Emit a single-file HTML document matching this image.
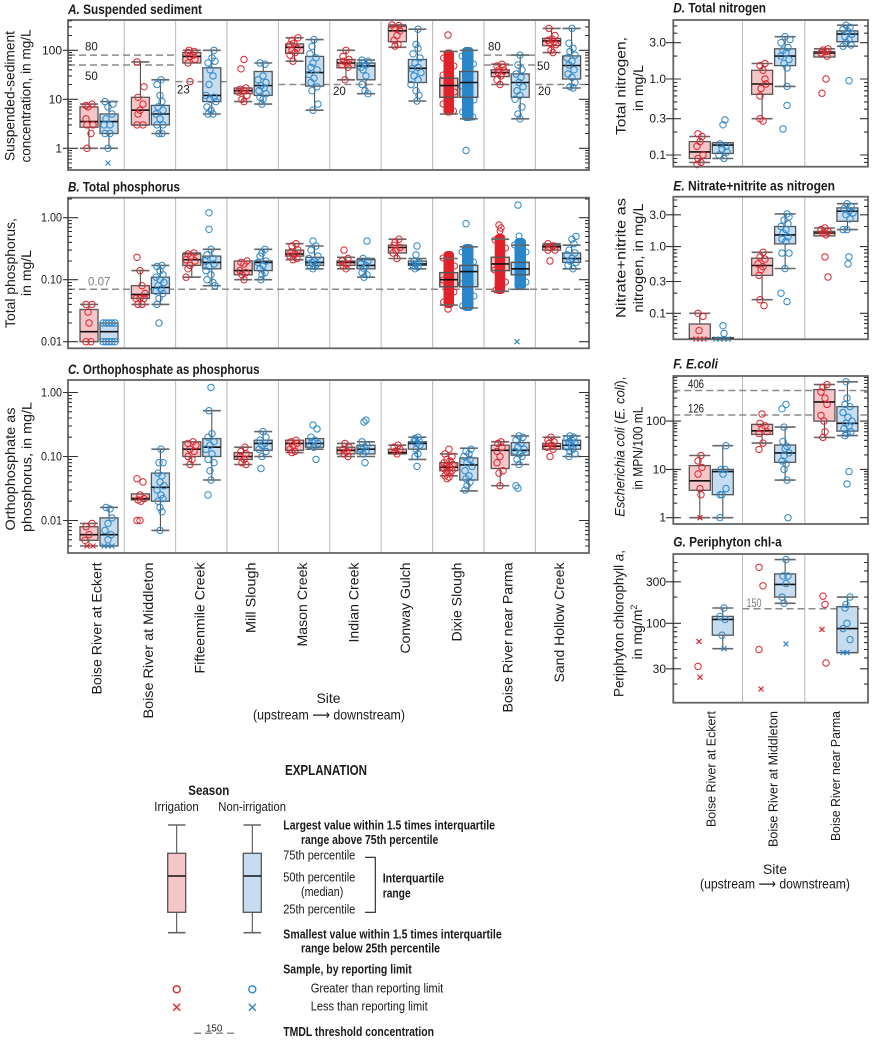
<!DOCTYPE html>
<html><head><meta charset="utf-8"><style>
html,body{margin:0;padding:0;background:#fff}
svg{display:block}
text{font-family:"Liberation Sans",Arial,sans-serif;fill:#1a1a1a}
.t{font-size:13.5px;font-weight:bold}
.tk{font-size:12px}
.ax{font-size:14px}
.th{font-size:11.5px;fill:#7a7a7a}
.rb{fill:#f6c5c7;stroke:#555;stroke-width:1.3}
.bb{fill:#c6dcf0;stroke:#555;stroke-width:1.3}
.ol{fill:none;stroke:#555;stroke-width:1.3}
.md{stroke:#111;stroke-width:1.6;fill:none}
.wk{stroke:#444;stroke-width:1;fill:none}
.cp{stroke:#666;stroke-width:1.6;fill:none}
.rp{fill:none;stroke:#e0232b;stroke-width:1}
.bp{fill:none;stroke:#2b86c9;stroke-width:1}
.fr{fill:none;stroke:#656565;stroke-width:1.8}
.dv{stroke:#bdbdbd;stroke-width:1.1}
.ds{stroke:#8a8a8a;stroke-width:1.5;stroke-dasharray:7 4;fill:none}
.tc{stroke:#333;stroke-width:1.1;fill:none}
.lg{font-size:12.5px}
.lb{font-size:12.5px;font-weight:bold}
.arr{font-family:"Liberation Sans","DejaVu Sans",sans-serif}
</style></head><body>
<svg width="875" height="1041" viewBox="0 0 875 1041" xmlns="http://www.w3.org/2000/svg">
<rect width="875" height="1041" fill="#fff"/>

<!-- ================= PANEL A ================= -->
<text class="t" x="68" y="14" textLength="134" lengthAdjust="spacingAndGlyphs"><tspan font-style="italic">A.</tspan> Suspended sediment</text>
<g class="dv"><path d="M124.2 20V170M175.6 20V170M227 20V170M278.4 20V170M329.8 20V170M381.2 20V170M432.6 20V170M484 20V170M535.4 20V170"/></g>
<path class="ds" d="M68 55.1H175.6M68 65H175.6M175.6 81.6H227M278.4 84.5H381.2M484 55.1H535.4M484 65H535.4M535.4 84.5H589"/>
<g class="th"><text x="85" y="50.7">80</text><text x="85" y="80">50</text><text x="177" y="93.5">23</text><text x="333" y="95">20</text><text x="488" y="50.7">80</text><text x="537" y="70">50</text><text x="538" y="95">20</text></g>

<path class="wk" d="M89 104.1V106.9M89 127.2V148.3M109 101.6V114M109 133.5V148.3M140.4 61.9V97.3M160.4 79.8V105.4M160.4 124.9V133.5M191.8 50.3V52.6M211.8 50.3V67.8M211.8 101.6V114M243.2 93.7V101.6M263.2 63V71.5M263.2 95.4V104.1M294.6 37.8V43.9M294.6 53.3V61.2M314.6 39.6V56.4M314.6 86.1V110.2M346 50.3V59.5M346 67.8V79.8M366 60.1V63M366 79.8V93.7M397.4 24.9V26.2M397.4 41.7V47.3M417.4 29.2V59.5M417.4 82.5V101M448.8 51.4V78.2M448.8 97.3V114M468.8 50.3V71.5M468.8 97.3V118.8M500.2 64.2V69.8M500.2 76.6V84.5M520.2 55.1V73.9M520.2 97.3V118.8M551.6 28.4V38.4M551.6 45.6V52.6M571.6 28.4V55.9M571.6 79V88"/>
<path class="cp" d="M80 104.1H98M80 148.3H98M100 101.6H118M100 148.3H118M131.4 61.9H149.4M131.4 124.9H149.4M151.4 79.8H169.4M151.4 133.5H169.4M182.8 50.3H200.8M202.8 50.3H220.8M202.8 114H220.8M234.2 101.6H252.2M254.2 63H272.2M254.2 104.1H272.2M285.6 37.8H303.6M285.6 61.2H303.6M305.6 39.6H323.6M305.6 110.2H323.6M337 50.3H355M337 79.8H355M357 60.1H375M357 93.7H375M388.4 24.9H406.4M388.4 47.3H406.4M408.4 29.2H426.4M408.4 101H426.4M491.2 64.2H509.2M491.2 84.5H509.2M511.2 55.1H529.2M511.2 118.8H529.2M542.6 28.4H560.6M542.6 52.6H560.6M562.6 28.4H580.6M562.6 88H580.6"/>
<g class="rb"><rect x="80" y="106.9" width="18" height="20.3"/><rect x="131.4" y="97.3" width="18" height="27.6"/><rect x="182.8" y="52.6" width="18" height="10.4"/><rect x="234.2" y="88" width="18" height="5.7"/><rect x="285.6" y="43.9" width="18" height="9.4"/><rect x="337" y="59.5" width="18" height="8.3"/><rect x="388.4" y="26.2" width="18" height="15.5"/><rect x="439.8" y="78.2" width="18" height="19.1"/><rect x="491.2" y="69.8" width="18" height="6.8"/><rect x="542.6" y="38.4" width="18" height="7.2"/></g>
<g class="bb"><rect x="100" y="114" width="18" height="19.5"/><rect x="151.4" y="105.4" width="18" height="19.5"/><rect x="202.8" y="67.8" width="18" height="33.8"/><rect x="254.2" y="71.5" width="18" height="23.9"/><rect x="305.6" y="56.4" width="18" height="29.7"/><rect x="357" y="63" width="18" height="16.8"/><rect x="408.4" y="59.5" width="18" height="23"/><rect x="459.8" y="71.5" width="18" height="25.8"/><rect x="511.2" y="73.9" width="18" height="23.4"/><rect x="562.6" y="55.9" width="18" height="23.1"/></g>
<path class="md" d="M80 121.6H98M100 121.6H118M131.4 110.2H149.4M151.4 114H169.4M182.8 56.4H200.8M202.8 95.4H220.8M234.2 90.7H252.2M254.2 85.6H272.2M285.6 47.3H303.6M305.6 72.6H323.6M337 63H355M357 65.9H375M388.4 30.8H406.4M408.4 68.3H426.4M491.2 72.6H509.2M511.2 82.5H529.2M542.6 40.9H560.6M562.6 65.5H580.6"/>
<g class="rp">
<circle cx="92" cy="104.1" r="3.2"/><circle cx="86" cy="105.4" r="3.2"/><circle cx="88" cy="106.9" r="3.2"/><circle cx="86" cy="118.8" r="3.2"/><circle cx="93" cy="124.9" r="3.2"/><circle cx="87" cy="124.9" r="3.2"/><circle cx="91" cy="133.5" r="3.2"/><circle cx="87" cy="148.3" r="3.2"/>
<circle cx="137" cy="61.9" r="3.2"/><circle cx="144" cy="86.8" r="3.2"/><circle cx="138" cy="97.3" r="3.2"/><circle cx="143" cy="104.1" r="3.2"/><circle cx="140" cy="110.2" r="3.2"/><circle cx="138" cy="114" r="3.2"/><circle cx="137" cy="124.9" r="3.2"/><circle cx="143" cy="124.9" r="3.2"/>
<circle cx="189" cy="50.3" r="3.2"/><circle cx="194" cy="51.4" r="3.2"/><circle cx="188" cy="52.6" r="3.2"/><circle cx="193" cy="55.1" r="3.2"/><circle cx="190" cy="56.4" r="3.2"/><circle cx="195" cy="59.5" r="3.2"/><circle cx="188" cy="63" r="3.2"/><circle cx="190" cy="81.6" r="3.2"/>
<circle cx="244" cy="59.5" r="3.2"/><circle cx="241" cy="68.8" r="3.2"/><circle cx="246" cy="88" r="3.2"/><circle cx="240" cy="89.3" r="3.2"/><circle cx="244" cy="90.7" r="3.2"/><circle cx="239" cy="92.1" r="3.2"/><circle cx="247" cy="95.4" r="3.2"/><circle cx="242" cy="99.3" r="3.2"/><circle cx="244" cy="101.6" r="3.2"/>
<circle cx="298" cy="37.8" r="3.2"/><circle cx="292" cy="40.3" r="3.2"/><circle cx="294" cy="43.2" r="3.2"/><circle cx="290" cy="44.7" r="3.2"/><circle cx="297" cy="48.3" r="3.2"/><circle cx="292" cy="50.3" r="3.2"/><circle cx="295" cy="52.6" r="3.2"/><circle cx="290" cy="55.1" r="3.2"/><circle cx="293" cy="61.2" r="3.2"/>
<circle cx="346" cy="50.3" r="3.2"/><circle cx="343" cy="56.4" r="3.2"/><circle cx="349" cy="59.5" r="3.2"/><circle cx="344" cy="61.2" r="3.2"/><circle cx="347" cy="63" r="3.2"/><circle cx="342" cy="65" r="3.2"/><circle cx="348" cy="67.3" r="3.2"/><circle cx="345" cy="79.8" r="3.2"/>
<circle cx="392" cy="24.9" r="3.2"/><circle cx="399" cy="25.6" r="3.2"/><circle cx="395" cy="28.4" r="3.2"/><circle cx="400" cy="30.8" r="3.2"/><circle cx="397" cy="35.5" r="3.2"/><circle cx="394" cy="40.3" r="3.2"/><circle cx="398" cy="44.4" r="3.2"/><circle cx="395" cy="46.1" r="3.2"/>
<circle cx="448" cy="35" r="3.2"/>
<circle cx="502" cy="64.2" r="3.2"/><circle cx="497" cy="65.9" r="3.2"/><circle cx="503" cy="67.3" r="3.2"/><circle cx="499" cy="69.8" r="3.2"/><circle cx="504" cy="70.9" r="3.2"/><circle cx="498" cy="72.6" r="3.2"/><circle cx="501" cy="75.9" r="3.2"/><circle cx="497" cy="79.8" r="3.2"/><circle cx="500" cy="84.5" r="3.2"/>
<circle cx="549" cy="28.4" r="3.2"/><circle cx="555" cy="35.5" r="3.2"/><circle cx="552" cy="38.9" r="3.2"/><circle cx="548" cy="40.3" r="3.2"/><circle cx="554" cy="41.7" r="3.2"/><circle cx="550" cy="43.2" r="3.2"/><circle cx="556" cy="44.7" r="3.2"/><circle cx="551" cy="50.3" r="3.2"/><circle cx="553" cy="52.6" r="3.2"/>
</g>
<g class="bp">
<circle cx="105" cy="101.6" r="3.2"/><circle cx="113" cy="104.1" r="3.2"/><circle cx="108" cy="106.9" r="3.2"/><circle cx="112" cy="114" r="3.2"/><circle cx="106" cy="118.8" r="3.2"/><circle cx="104" cy="124.9" r="3.2"/><circle cx="110" cy="124.9" r="3.2"/><circle cx="105" cy="133.5" r="3.2"/><circle cx="110" cy="133.5" r="3.2"/><circle cx="108" cy="148.3" r="3.2"/>
<circle cx="161" cy="79.8" r="3.2"/><circle cx="157" cy="84.5" r="3.2"/><circle cx="160" cy="95.4" r="3.2"/><circle cx="162" cy="101.6" r="3.2"/><circle cx="158" cy="106.9" r="3.2"/><circle cx="163" cy="110.2" r="3.2"/><circle cx="156" cy="114" r="3.2"/><circle cx="160" cy="118.8" r="3.2"/><circle cx="163" cy="124.9" r="3.2"/><circle cx="157" cy="124.9" r="3.2"/><circle cx="159" cy="133.5" r="3.2"/><circle cx="162" cy="133.5" r="3.2"/>
<circle cx="214" cy="50.3" r="3.2"/><circle cx="212" cy="57.9" r="3.2"/><circle cx="208" cy="63" r="3.2"/><circle cx="215" cy="61.2" r="3.2"/><circle cx="210" cy="69.8" r="3.2"/><circle cx="213" cy="75.9" r="3.2"/><circle cx="209" cy="84.5" r="3.2"/><circle cx="206" cy="95.4" r="3.2"/><circle cx="214" cy="97.3" r="3.2"/><circle cx="210" cy="99.3" r="3.2"/><circle cx="216" cy="101.6" r="3.2"/><circle cx="207" cy="106.9" r="3.2"/><circle cx="211" cy="110.2" r="3.2"/><circle cx="208" cy="114" r="3.2"/><circle cx="213" cy="114" r="3.2"/>
<circle cx="260" cy="63" r="3.2"/><circle cx="265" cy="64.2" r="3.2"/><circle cx="263" cy="75.9" r="3.2"/><circle cx="258" cy="79.8" r="3.2"/><circle cx="266" cy="82.5" r="3.2"/><circle cx="261" cy="85.6" r="3.2"/><circle cx="264" cy="88" r="3.2"/><circle cx="259" cy="90.7" r="3.2"/><circle cx="266" cy="93.7" r="3.2"/><circle cx="260" cy="97.3" r="3.2"/><circle cx="263" cy="99.3" r="3.2"/><circle cx="262" cy="104.1" r="3.2"/>
<circle cx="314" cy="39.6" r="3.2"/><circle cx="312" cy="46.4" r="3.2"/><circle cx="310" cy="53.8" r="3.2"/><circle cx="316" cy="57.9" r="3.2"/><circle cx="313" cy="63" r="3.2"/><circle cx="311" cy="67.3" r="3.2"/><circle cx="317" cy="69.8" r="3.2"/><circle cx="309" cy="74.5" r="3.2"/><circle cx="314" cy="78.2" r="3.2"/><circle cx="311" cy="82.5" r="3.2"/><circle cx="317" cy="86.8" r="3.2"/><circle cx="312" cy="90.7" r="3.2"/><circle cx="318" cy="104.1" r="3.2"/><circle cx="313" cy="110.2" r="3.2"/>
<circle cx="362" cy="60.1" r="3.2"/><circle cx="368" cy="61.2" r="3.2"/><circle cx="364" cy="63" r="3.2"/><circle cx="366" cy="65" r="3.2"/><circle cx="361" cy="67.3" r="3.2"/><circle cx="363" cy="69.8" r="3.2"/><circle cx="366" cy="75.9" r="3.2"/><circle cx="362" cy="84.5" r="3.2"/><circle cx="365" cy="90.7" r="3.2"/><circle cx="368" cy="93.7" r="3.2"/>
<circle cx="418" cy="29.2" r="3.2"/><circle cx="416" cy="44.4" r="3.2"/><circle cx="418" cy="48.3" r="3.2"/><circle cx="413" cy="53.8" r="3.2"/><circle cx="420" cy="57.9" r="3.2"/><circle cx="415" cy="63" r="3.2"/><circle cx="418" cy="67.3" r="3.2"/><circle cx="412" cy="68.8" r="3.2"/><circle cx="421" cy="72.6" r="3.2"/><circle cx="414" cy="75.9" r="3.2"/><circle cx="418" cy="79.8" r="3.2"/><circle cx="411" cy="84.5" r="3.2"/><circle cx="416" cy="90.7" r="3.2"/><circle cx="419" cy="95.4" r="3.2"/><circle cx="417" cy="101" r="3.2"/>
<circle cx="466" cy="150.5" r="3.2"/>
<circle cx="520" cy="55.1" r="3.2"/><circle cx="518" cy="65" r="3.2"/><circle cx="522" cy="69.8" r="3.2"/><circle cx="516" cy="73.9" r="3.2"/><circle cx="521" cy="77.4" r="3.2"/><circle cx="519" cy="82.5" r="3.2"/><circle cx="523" cy="86.8" r="3.2"/><circle cx="517" cy="90.7" r="3.2"/><circle cx="520" cy="95.4" r="3.2"/><circle cx="515" cy="99.3" r="3.2"/><circle cx="522" cy="106.9" r="3.2"/><circle cx="518" cy="114" r="3.2"/><circle cx="520" cy="118.8" r="3.2"/>
<circle cx="572" cy="28.4" r="3.2"/><circle cx="569" cy="43.2" r="3.2"/><circle cx="573" cy="48.3" r="3.2"/><circle cx="570" cy="51.4" r="3.2"/><circle cx="575" cy="55.1" r="3.2"/><circle cx="567" cy="57.9" r="3.2"/><circle cx="572" cy="61.2" r="3.2"/><circle cx="569" cy="65" r="3.2"/><circle cx="574" cy="69.8" r="3.2"/><circle cx="568" cy="73.9" r="3.2"/><circle cx="572" cy="77.4" r="3.2"/><circle cx="575" cy="82.5" r="3.2"/><circle cx="570" cy="86.8" r="3.2"/><circle cx="573" cy="88" r="3.2"/>
</g>
<path stroke="#2b86c9" stroke-width="1.2" d="M105.5 160.5l5 5M105.5 165.5l5 -5"/>
<!-- Dixie clouds A -->
<rect x="443.5" y="49.5" width="10.5" height="66" rx="4" fill="#e0232b"/>
<g class="rp"><circle cx="443.5" cy="58" r="3"/><circle cx="454" cy="66" r="3"/><circle cx="443" cy="75" r="3"/><circle cx="454.5" cy="92" r="3"/><circle cx="443" cy="104" r="3"/><circle cx="453.5" cy="111" r="3"/></g>
<rect x="462" y="47" width="11.5" height="74" rx="4" fill="#2b86c9"/>
<g class="bp"><circle cx="462" cy="56" r="3"/><circle cx="473.5" cy="64" r="3"/><circle cx="461.5" cy="86" r="3"/><circle cx="474" cy="100" r="3"/><circle cx="462.5" cy="112" r="3"/><circle cx="473" cy="117" r="3"/></g>
<rect class="ol" x="439.8" y="78.2" width="18" height="19.1"/><rect class="ol" x="459.8" y="71.5" width="18" height="25.8"/>
<path class="cp" d="M439.8 51.4H457.8M439.8 114H457.8M459.8 50.3H477.8M459.8 118.8H477.8"/>
<path class="md" d="M439.8 85.6H457.8M459.8 82.5H477.8"/>
<rect class="fr" x="68" y="20" width="521" height="150"/>
<path class="tc" d="M63 148.3H78M63 99.3H78M63 50.3H78M579 148.3H589M579 99.3H589M579 50.3H589"/>
<path class="tc" d="M68 167.8h4M68 163h4M68 159.2h4M68 155.9h4M68 153h4M68 150.5h4M68 133.5h4M68 124.9h4M68 118.8h4M68 114h4M68 110.2h4M68 106.9h4M68 104.1h4M68 101.6h4M68 84.5h4M68 75.9h4M68 69.8h4M68 65h4M68 61.2h4M68 57.9h4M68 55.1h4M68 52.6h4M68 35.5h4M68 26.9h4M68 20.8h4M589 167.8h-4M589 163h-4M589 159.2h-4M589 155.9h-4M589 153h-4M589 150.5h-4M589 133.5h-4M589 124.9h-4M589 118.8h-4M589 114h-4M589 110.2h-4M589 106.9h-4M589 104.1h-4M589 101.6h-4M589 84.5h-4M589 75.9h-4M589 69.8h-4M589 65h-4M589 61.2h-4M589 57.9h-4M589 55.1h-4M589 52.6h-4M589 35.5h-4M589 26.9h-4"/>
<g class="tk" text-anchor="end"><text x="62" y="54.3">100</text><text x="62" y="103.3">10</text><text x="62" y="152.3">1</text></g>
<text class="ax" transform="translate(14.5 96) rotate(-90)" text-anchor="middle" textLength="130" lengthAdjust="spacingAndGlyphs">Suspended-sediment</text>
<text class="ax" transform="translate(30.5 96) rotate(-90)" text-anchor="middle" textLength="133" lengthAdjust="spacingAndGlyphs">concentration, in mg/L</text>

<!-- ================= PANEL B ================= -->
<text class="t" x="68" y="191.5" textLength="112" lengthAdjust="spacingAndGlyphs"><tspan font-style="italic">B.</tspan> Total phosphorus</text>
<g class="dv"><path d="M124.2 197.7V348.3M175.6 197.7V348.3M227 197.7V348.3M278.4 197.7V348.3M329.8 197.7V348.3M381.2 197.7V348.3M432.6 197.7V348.3M484 197.7V348.3M535.4 197.7V348.3"/></g>
<path class="ds" d="M68 289.3H589"/>
<text class="th" x="88" y="285.5">0.07</text>
<path class="wk" d="M89 304.4V309.5M140.4 270.6V285.7M140.4 298.4V304.4M160.4 265.4V277.2M160.4 293.5V304.4M191.8 253V254M191.8 265.4V277.2M211.8 249.3V256.1M211.8 268.8V285.7M243.2 274.8V279.7M263.2 249.3V261M263.2 270.6V279.7M294.6 243.7V250.1M294.6 256.1V259.7M314.6 246V257.3M314.6 265.4V268.8M346 257.3V261M346 265.4V268.8M366 258.5V259.7M366 268.8V277.2M397.4 239.2V245.2M397.4 253V258.5M417.4 258.5V261M417.4 265.4V268.8M448.8 258.5V272.6M448.8 286.8V305.1M468.8 246.8V265.4M468.8 286.8V308M500.2 239.2V257.3M500.2 270.6V291.3M520.2 245.2V262.4M520.2 274.8V289.3M571.6 245.2V253M571.6 262.4V268.8"/>
<path class="cp" d="M80 304.4H98M131.4 270.6H149.4M131.4 304.4H149.4M151.4 265.4H169.4M151.4 304.4H169.4M182.8 253H200.8M182.8 277.2H200.8M202.8 249.3H220.8M202.8 285.7H220.8M234.2 279.7H252.2M254.2 249.3H272.2M254.2 279.7H272.2M285.6 243.7H303.6M285.6 259.7H303.6M305.6 246H323.6M305.6 268.8H323.6M337 257.3H355M337 268.8H355M357 258.5H375M357 277.2H375M388.4 239.2H406.4M388.4 258.5H406.4M408.4 258.5H426.4M408.4 268.8H426.4M542.6 243.7H560.6M562.6 245.2H580.6M562.6 268.8H580.6"/>
<g class="rb"><rect x="80" y="309.5" width="18" height="32.2"/><rect x="131.4" y="285.7" width="18" height="12.7"/><rect x="182.8" y="254" width="18" height="11.4"/><rect x="234.2" y="261" width="18" height="13.8"/><rect x="285.6" y="250.1" width="18" height="6"/><rect x="337" y="261" width="18" height="4.4"/><rect x="388.4" y="245.2" width="18" height="7.8"/><rect x="439.8" y="272.6" width="18" height="14.2"/><rect x="491.2" y="257.3" width="18" height="13.3"/><rect x="542.6" y="245.2" width="18" height="4.9"/></g>
<g class="bb"><rect x="100" y="323" width="18" height="18.7"/><rect x="151.4" y="277.2" width="18" height="16.3"/><rect x="202.8" y="256.1" width="18" height="12.7"/><rect x="254.2" y="261" width="18" height="9.6"/><rect x="305.6" y="257.3" width="18" height="8.1"/><rect x="357" y="259.7" width="18" height="9.1"/><rect x="408.4" y="261" width="18" height="4.4"/><rect x="459.8" y="265.4" width="18" height="21.4"/><rect x="511.2" y="262.4" width="18" height="12.4"/><rect x="562.6" y="253" width="18" height="9.4"/></g>
<path class="md" d="M80 331.7H98M100 331.7H118M131.4 294.4H149.4M151.4 287.5H169.4M182.8 259.7H200.8M202.8 262.4H220.8M234.2 270.6H252.2M254.2 262.4H272.2M285.6 254H303.6M305.6 262.4H323.6M337 262.4H355M357 265.4H375M388.4 247.5H406.4M408.4 263.9H426.4M542.6 246.8H560.6M562.6 258.5H580.6"/>
<g class="rp">
<circle cx="92" cy="304.4" r="3.2"/><circle cx="86" cy="304.4" r="3.2"/><circle cx="88" cy="312.1" r="3.2"/><circle cx="89" cy="323" r="3.2"/><circle cx="86" cy="341.7" r="3.2"/><circle cx="91" cy="341.7" r="3.2"/>
<circle cx="137" cy="257.3" r="3.2"/><circle cx="140" cy="270.6" r="3.2"/><circle cx="142" cy="285.7" r="3.2"/><circle cx="145" cy="293.5" r="3.2"/><circle cx="136" cy="298.4" r="3.2"/><circle cx="140" cy="298.4" r="3.2"/><circle cx="144" cy="298.4" r="3.2"/><circle cx="138" cy="304.4" r="3.2"/><circle cx="142" cy="304.4" r="3.2"/>
<circle cx="194" cy="253" r="3.2"/><circle cx="188" cy="254" r="3.2"/><circle cx="191" cy="256.1" r="3.2"/><circle cx="186" cy="259.7" r="3.2"/><circle cx="195" cy="261" r="3.2"/><circle cx="190" cy="265.4" r="3.2"/><circle cx="188" cy="268.8" r="3.2"/><circle cx="186" cy="277.2" r="3.2"/>
<circle cx="247" cy="261" r="3.2"/><circle cx="241" cy="262.4" r="3.2"/><circle cx="244" cy="263.9" r="3.2"/><circle cx="240" cy="270.6" r="3.2"/><circle cx="246" cy="272.6" r="3.2"/><circle cx="242" cy="274.8" r="3.2"/><circle cx="244" cy="279.7" r="3.2"/>
<circle cx="296" cy="243.7" r="3.2"/><circle cx="292" cy="246" r="3.2"/><circle cx="298" cy="250.1" r="3.2"/><circle cx="291" cy="252" r="3.2"/><circle cx="295" cy="254" r="3.2"/><circle cx="290" cy="256.1" r="3.2"/><circle cx="297" cy="258.5" r="3.2"/><circle cx="293" cy="259.7" r="3.2"/>
<circle cx="344" cy="250.1" r="3.2"/><circle cx="348" cy="258.5" r="3.2"/><circle cx="342" cy="261" r="3.2"/><circle cx="347" cy="263.9" r="3.2"/><circle cx="343" cy="265.4" r="3.2"/><circle cx="346" cy="268.8" r="3.2"/>
<circle cx="399" cy="239.2" r="3.2"/><circle cx="395" cy="242.4" r="3.2"/><circle cx="394" cy="245.2" r="3.2"/><circle cx="400" cy="247.5" r="3.2"/><circle cx="396" cy="250.1" r="3.2"/><circle cx="393" cy="253" r="3.2"/><circle cx="397" cy="258.5" r="3.2"/>
<circle cx="448" cy="309" r="3.2"/><circle cx="499" cy="225" r="3.2"/><circle cx="501" cy="228" r="3.2"/>
<circle cx="548" cy="243.7" r="3.2"/><circle cx="553" cy="246" r="3.2"/><circle cx="550" cy="247.5" r="3.2"/><circle cx="555" cy="250.1" r="3.2"/><circle cx="548" cy="250.1" r="3.2"/><circle cx="550" cy="261" r="3.2"/>
</g>
<g class="bp">
<circle cx="103" cy="323" r="3.2"/><circle cx="106" cy="323" r="3.2"/><circle cx="109" cy="323" r="3.2"/><circle cx="112" cy="323" r="3.2"/><circle cx="115" cy="323" r="3.2"/><circle cx="103" cy="341.7" r="3.2"/><circle cx="106" cy="341.7" r="3.2"/><circle cx="109" cy="341.7" r="3.2"/><circle cx="112" cy="341.7" r="3.2"/><circle cx="115" cy="341.7" r="3.2"/>
<circle cx="162" cy="265.4" r="3.2"/><circle cx="157" cy="266.5" r="3.2"/><circle cx="160" cy="270.6" r="3.2"/><circle cx="163" cy="274.8" r="3.2"/><circle cx="156" cy="277.2" r="3.2"/><circle cx="160" cy="279.7" r="3.2"/><circle cx="164" cy="282.5" r="3.2"/><circle cx="158" cy="285.7" r="3.2"/><circle cx="161" cy="289.3" r="3.2"/><circle cx="156" cy="291.3" r="3.2"/><circle cx="163" cy="293.5" r="3.2"/><circle cx="159" cy="298.4" r="3.2"/><circle cx="157" cy="304.4" r="3.2"/><circle cx="159" cy="323" r="3.2"/>
<circle cx="209" cy="212.8" r="3.2"/><circle cx="209" cy="229.3" r="3.2"/><circle cx="211" cy="249.3" r="3.2"/><circle cx="207" cy="255" r="3.2"/><circle cx="213" cy="258.5" r="3.2"/><circle cx="205" cy="261" r="3.2"/><circle cx="214" cy="263.9" r="3.2"/><circle cx="209" cy="266.5" r="3.2"/><circle cx="206" cy="270.6" r="3.2"/><circle cx="211" cy="274.8" r="3.2"/><circle cx="207" cy="279.7" r="3.2"/><circle cx="213" cy="282.5" r="3.2"/><circle cx="215" cy="285.7" r="3.2"/>
<circle cx="265" cy="249.3" r="3.2"/><circle cx="262" cy="253" r="3.2"/><circle cx="260" cy="256.1" r="3.2"/><circle cx="266" cy="261" r="3.2"/><circle cx="258" cy="262.4" r="3.2"/><circle cx="263" cy="265.4" r="3.2"/><circle cx="260" cy="268.8" r="3.2"/><circle cx="265" cy="272.6" r="3.2"/><circle cx="262" cy="274.8" r="3.2"/><circle cx="261" cy="279.7" r="3.2"/>
<circle cx="313" cy="241.1" r="3.2"/><circle cx="316" cy="246" r="3.2"/><circle cx="311" cy="250.1" r="3.2"/><circle cx="318" cy="256.1" r="3.2"/><circle cx="309" cy="258.5" r="3.2"/><circle cx="314" cy="261" r="3.2"/><circle cx="312" cy="262.4" r="3.2"/><circle cx="317" cy="263.9" r="3.2"/><circle cx="310" cy="265.4" r="3.2"/><circle cx="315" cy="266.5" r="3.2"/><circle cx="313" cy="268.8" r="3.2"/>
<circle cx="367" cy="241.1" r="3.2"/><circle cx="363" cy="258.5" r="3.2"/><circle cx="368" cy="261" r="3.2"/><circle cx="361" cy="263.9" r="3.2"/><circle cx="366" cy="265.4" r="3.2"/><circle cx="364" cy="268.8" r="3.2"/><circle cx="362" cy="272.6" r="3.2"/><circle cx="367" cy="274.8" r="3.2"/><circle cx="364" cy="277.2" r="3.2"/>
<circle cx="417" cy="246" r="3.2"/><circle cx="416" cy="254.8" r="3.2"/><circle cx="414" cy="261" r="3.2"/><circle cx="419" cy="262.4" r="3.2"/><circle cx="416" cy="263.9" r="3.2"/><circle cx="413" cy="265.4" r="3.2"/><circle cx="418" cy="267" r="3.2"/><circle cx="415" cy="268.8" r="3.2"/>
<circle cx="466" cy="223.7" r="3.2"/><circle cx="518" cy="205.1" r="3.2"/>
<circle cx="576" cy="236.4" r="3.2"/><circle cx="572" cy="239.2" r="3.2"/><circle cx="574" cy="243.7" r="3.2"/><circle cx="569" cy="250.1" r="3.2"/><circle cx="575" cy="253" r="3.2"/><circle cx="567" cy="254.8" r="3.2"/><circle cx="572" cy="258.5" r="3.2"/><circle cx="570" cy="261" r="3.2"/><circle cx="576" cy="262.4" r="3.2"/><circle cx="568" cy="265.4" r="3.2"/><circle cx="573" cy="268.8" r="3.2"/>
</g>
<path stroke="#2b86c9" stroke-width="1.2" d="M514.5 339.2l5 5M514.5 344.2l5 -5"/>
<!-- B clouds -->
<rect x="443.5" y="251" width="10.5" height="57" rx="4" fill="#e0232b"/>
<g class="rp"><circle cx="443" cy="258" r="3"/><circle cx="454.5" cy="266" r="3"/><circle cx="443" cy="280" r="3"/><circle cx="454" cy="292" r="3"/><circle cx="443.5" cy="302" r="3"/></g>
<rect x="462" y="244" width="11.5" height="67" rx="4" fill="#2b86c9"/>
<g class="bp"><circle cx="462" cy="252" r="3"/><circle cx="473.5" cy="262" r="3"/><circle cx="461.5" cy="284" r="3"/><circle cx="474" cy="296" r="3"/><circle cx="462.5" cy="306" r="3"/></g>
<rect x="494.7" y="234" width="10.5" height="60" rx="4" fill="#e0232b"/>
<g class="rp"><circle cx="495" cy="240" r="3"/><circle cx="505.5" cy="248" r="3"/><circle cx="494.5" cy="270" r="3"/><circle cx="505.5" cy="282" r="3"/><circle cx="496" cy="290" r="3"/><circle cx="500" cy="231" r="3"/></g>
<rect x="514.5" y="238" width="11.5" height="52" rx="4" fill="#2b86c9"/>
<g class="bp"><circle cx="514.5" cy="245" r="3"/><circle cx="526" cy="252" r="3"/><circle cx="514" cy="272" r="3"/><circle cx="526" cy="282" r="3"/><circle cx="519" cy="236" r="3"/></g>
<rect class="ol" x="439.8" y="272.6" width="18" height="14.2"/><rect class="ol" x="459.8" y="265.4" width="18" height="21.4"/><rect class="ol" x="491.2" y="257.3" width="18" height="13.3"/><rect class="ol" x="511.2" y="262.4" width="18" height="12.4"/>
<path class="cp" d="M439.8 258.5H457.8M439.8 305.1H457.8M459.8 246.8H477.8M459.8 308H477.8M491.2 239.2H509.2M491.2 291.3H509.2M511.2 245.2H529.2M511.2 289.3H529.2"/>
<path class="md" d="M439.8 279.7H457.8M459.8 271.6H477.8M491.2 263.9H509.2M511.2 268.8H529.2"/>
<rect class="fr" x="68" y="197.7" width="521" height="150.6"/>
<path class="tc" d="M63 341.7H78M63 279.7H78M63 217.7H78M579 341.7H589M579 279.7H589M579 217.7H589"/>
<path class="tc" d="M68 323h4M68 312.1h4M68 304.4h4M68 298.4h4M68 293.5h4M68 289.3h4M68 285.7h4M68 282.5h4M68 261h4M68 250.1h4M68 242.4h4M68 236.4h4M68 231.5h4M68 227.3h4M68 223.7h4M68 220.5h4M68 199h4M589 323h-4M589 312.1h-4M589 304.4h-4M589 298.4h-4M589 293.5h-4M589 289.3h-4M589 285.7h-4M589 282.5h-4M589 261h-4M589 250.1h-4M589 242.4h-4M589 236.4h-4M589 231.5h-4M589 227.3h-4M589 223.7h-4M589 220.5h-4M589 199h-4"/>
<g class="tk" text-anchor="end"><text x="62" y="221.7" textLength="21" lengthAdjust="spacingAndGlyphs">1.00</text><text x="62" y="283.7" textLength="21" lengthAdjust="spacingAndGlyphs">0.10</text><text x="62" y="345.7" textLength="21" lengthAdjust="spacingAndGlyphs">0.01</text></g>
<text class="ax" transform="translate(15 273) rotate(-90)" text-anchor="middle" textLength="110" lengthAdjust="spacingAndGlyphs">Total phosphorus,</text>
<text class="ax" transform="translate(31 273) rotate(-90)" text-anchor="middle">in mg/L</text>

<!-- ================= PANEL C ================= -->
<text class="t" x="68" y="373.8" textLength="191.6" lengthAdjust="spacingAndGlyphs"><tspan font-style="italic">C.</tspan> Orthophosphate as phosphorus</text>
<g class="dv"><path d="M124.2 380V553M175.6 380V553M227 380V553M278.4 380V553M329.8 380V553M381.2 380V553M432.6 380V553M484 380V553M535.4 380V553"/></g>
<path class="wk" d="M89 523.4V526.7M89 540.3V546M109 507.4V517.9M160.4 449.2V473.1M160.4 501.2V530.4M191.8 456.5V464.5M211.8 410.7V438.6M211.8 456.5V480M243.2 447.2V452.6M243.2 459.4V464.5M263.2 431.6V440.2M263.2 450.3V456.5M294.6 450.3V452.6M314.6 447.2V449.2M346 443.4V447.2M346 453.9V456.5M366 441.8V445.2M366 453.9V456.5M397.4 445.2V449.2M417.4 437.2V441.8M417.4 449.2V459.4M448.8 453.9V462.7M448.8 470.7V475.8M468.8 448.2V457.9M468.8 480V490.9M500.2 441.8V445.2M500.2 468.5V485.7M520.2 435.9V442.6M520.2 455.2V464.5M551.6 437.2V443.4M571.6 435.9V440.2M571.6 449.2V456.5"/>
<path class="cp" d="M80 523.4H98M80 546H98M100 507.4H118M151.4 449.2H169.4M151.4 530.4H169.4M182.8 464.5H200.8M202.8 410.7H220.8M202.8 480H220.8M234.2 447.2H252.2M234.2 464.5H252.2M254.2 431.6H272.2M254.2 456.5H272.2M285.6 452.6H303.6M305.6 449.2H323.6M337 443.4H355M337 456.5H355M357 441.8H375M357 456.5H375M388.4 445.2H406.4M408.4 437.2H426.4M408.4 459.4H426.4M439.8 453.9H457.8M439.8 475.8H457.8M459.8 448.2H477.8M459.8 490.9H477.8M491.2 441.8H509.2M491.2 485.7H509.2M511.2 435.9H529.2M511.2 464.5H529.2M542.6 437.2H560.6M562.6 435.9H580.6M562.6 456.5H580.6"/>
<g class="rb"><rect x="80" y="526.7" width="18" height="13.6"/><rect x="131.4" y="493.9" width="18" height="6"/><rect x="182.8" y="441.8" width="18" height="14.7"/><rect x="234.2" y="452.6" width="18" height="6.8"/><rect x="285.6" y="440.2" width="18" height="10.1"/><rect x="337" y="447.2" width="18" height="6.7"/><rect x="388.4" y="449.2" width="18" height="4.7"/><rect x="439.8" y="462.7" width="18" height="8"/><rect x="491.2" y="445.2" width="18" height="23.3"/><rect x="542.6" y="443.4" width="18" height="5.8"/></g>
<g class="bb"><rect x="100" y="517.9" width="18" height="28.1"/><rect x="151.4" y="473.1" width="18" height="28.1"/><rect x="202.8" y="438.6" width="18" height="17.9"/><rect x="254.2" y="440.2" width="18" height="10.1"/><rect x="305.6" y="438.6" width="18" height="8.6"/><rect x="357" y="445.2" width="18" height="8.7"/><rect x="408.4" y="441.8" width="18" height="7.4"/><rect x="459.8" y="457.9" width="18" height="22.1"/><rect x="511.2" y="442.6" width="18" height="12.6"/><rect x="562.6" y="440.2" width="18" height="9"/></g>
<path class="md" d="M80 534.7H98M100 534.7H118M131.4 498.6H149.4M151.4 487.3H169.4M182.8 449.2H200.8M202.8 447.2H220.8M234.2 456.5H252.2M254.2 443.4H272.2M285.6 443.4H303.6M305.6 443.4H323.6M337 450.3H355M357 449.2H375M388.4 452.6H406.4M408.4 443.4H426.4M439.8 467.2H457.8M459.8 464.9H477.8M491.2 450.3H509.2M511.2 450.3H529.2M542.6 446.2H560.6M562.6 445.2H580.6"/>
<g class="rp">
<circle cx="92" cy="523.4" r="3.2"/><circle cx="86" cy="526.7" r="3.2"/><circle cx="89" cy="534.7" r="3.2"/><circle cx="85" cy="540.3" r="3.2"/>
<circle cx="137" cy="478.7" r="3.2"/><circle cx="143" cy="482" r="3.2"/><circle cx="140" cy="495" r="3.2"/><circle cx="144" cy="498.6" r="3.2"/><circle cx="138" cy="499.9" r="3.2"/><circle cx="141" cy="501.2" r="3.2"/><circle cx="137" cy="520.5" r="3.2"/><circle cx="140" cy="520.5" r="3.2"/>
<circle cx="193" cy="441.8" r="3.2"/><circle cx="188" cy="443.4" r="3.2"/><circle cx="196" cy="445.2" r="3.2"/><circle cx="190" cy="449.2" r="3.2"/><circle cx="194" cy="451.4" r="3.2"/><circle cx="188" cy="456.5" r="3.2"/><circle cx="192" cy="459.4" r="3.2"/><circle cx="190" cy="464.5" r="3.2"/>
<circle cx="245" cy="447.2" r="3.2"/><circle cx="241" cy="451.4" r="3.2"/><circle cx="246" cy="453.9" r="3.2"/><circle cx="240" cy="456.5" r="3.2"/><circle cx="244" cy="459.4" r="3.2"/><circle cx="242" cy="462.7" r="3.2"/><circle cx="246" cy="464.5" r="3.2"/>
<circle cx="296" cy="440.2" r="3.2"/><circle cx="291" cy="441.8" r="3.2"/><circle cx="297" cy="443.4" r="3.2"/><circle cx="293" cy="445.2" r="3.2"/><circle cx="290" cy="449.2" r="3.2"/><circle cx="295" cy="451.4" r="3.2"/><circle cx="292" cy="452.6" r="3.2"/>
<circle cx="345" cy="443.4" r="3.2"/><circle cx="349" cy="447.2" r="3.2"/><circle cx="343" cy="449.2" r="3.2"/><circle cx="347" cy="451.4" r="3.2"/><circle cx="344" cy="453.9" r="3.2"/><circle cx="348" cy="456.5" r="3.2"/>
<circle cx="398" cy="445.2" r="3.2"/><circle cx="394" cy="447.2" r="3.2"/><circle cx="400" cy="449.2" r="3.2"/><circle cx="395" cy="451.4" r="3.2"/><circle cx="397" cy="453.9" r="3.2"/>
<circle cx="449" cy="449.2" r="3.2"/><circle cx="445" cy="453.9" r="3.2"/><circle cx="452" cy="456.5" r="3.2"/><circle cx="447" cy="459.4" r="3.2"/><circle cx="450" cy="461" r="3.2"/><circle cx="444" cy="462.7" r="3.2"/><circle cx="453" cy="464.5" r="3.2"/><circle cx="446" cy="466.4" r="3.2"/><circle cx="450" cy="467.2" r="3.2"/><circle cx="444" cy="468.5" r="3.2"/><circle cx="452" cy="470.7" r="3.2"/><circle cx="447" cy="471.7" r="3.2"/><circle cx="450" cy="473.1" r="3.2"/><circle cx="445" cy="475.8" r="3.2"/><circle cx="449" cy="477" r="3.2"/><circle cx="447" cy="478.7" r="3.2"/>
<circle cx="501" cy="441.8" r="3.2"/><circle cx="498" cy="443.4" r="3.2"/><circle cx="502" cy="447.2" r="3.2"/><circle cx="497" cy="451.4" r="3.2"/><circle cx="500" cy="456.5" r="3.2"/><circle cx="497" cy="462.7" r="3.2"/><circle cx="503" cy="470.7" r="3.2"/><circle cx="499" cy="473.1" r="3.2"/><circle cx="500" cy="485.7" r="3.2"/>
<circle cx="551" cy="437.2" r="3.2"/><circle cx="548" cy="440.2" r="3.2"/><circle cx="554" cy="441.8" r="3.2"/><circle cx="549" cy="443.4" r="3.2"/><circle cx="552" cy="445.2" r="3.2"/><circle cx="547" cy="447.2" r="3.2"/><circle cx="553" cy="449.2" r="3.2"/><circle cx="550" cy="456.5" r="3.2"/>
</g>
<path stroke="#e0232b" stroke-width="1.2" d="M84.5 543.5l5 5M84.5 548.5l5 -5M90.5 543.5l5 5M90.5 548.5l5 -5"/>
<g class="bp">
<circle cx="106" cy="507.4" r="3.2"/><circle cx="110" cy="508.9" r="3.2"/><circle cx="112" cy="517.9" r="3.2"/><circle cx="108" cy="523.4" r="3.2"/><circle cx="105" cy="530.4" r="3.2"/><circle cx="111" cy="534.7" r="3.2"/><circle cx="108" cy="539.8" r="3.2"/>
<circle cx="161" cy="449.2" r="3.2"/><circle cx="159" cy="462.7" r="3.2"/><circle cx="163" cy="462.7" r="3.2"/><circle cx="158" cy="473.1" r="3.2"/><circle cx="162" cy="475.8" r="3.2"/><circle cx="160" cy="482" r="3.2"/><circle cx="164" cy="485.7" r="3.2"/><circle cx="157" cy="490" r="3.2"/><circle cx="161" cy="495" r="3.2"/><circle cx="163" cy="498.6" r="3.2"/><circle cx="158" cy="501.2" r="3.2"/><circle cx="160" cy="507.4" r="3.2"/><circle cx="162" cy="511.7" r="3.2"/><circle cx="160" cy="530.4" r="3.2"/>
<circle cx="211" cy="387.4" r="3.2"/><circle cx="209" cy="410.7" r="3.2"/><circle cx="212" cy="433.7" r="3.2"/><circle cx="208" cy="437.2" r="3.2"/><circle cx="214" cy="441.8" r="3.2"/><circle cx="210" cy="445.2" r="3.2"/><circle cx="206" cy="449.2" r="3.2"/><circle cx="212" cy="453.9" r="3.2"/><circle cx="208" cy="459.4" r="3.2"/><circle cx="214" cy="462.7" r="3.2"/><circle cx="210" cy="470.7" r="3.2"/><circle cx="211" cy="480" r="3.2"/><circle cx="208" cy="495" r="3.2"/>
<circle cx="263" cy="431.6" r="3.2"/><circle cx="266" cy="437.2" r="3.2"/><circle cx="260" cy="440.2" r="3.2"/><circle cx="265" cy="443.4" r="3.2"/><circle cx="262" cy="445.2" r="3.2"/><circle cx="259" cy="449.2" r="3.2"/><circle cx="266" cy="451.4" r="3.2"/><circle cx="262" cy="456.5" r="3.2"/><circle cx="261" cy="468.5" r="3.2"/>
<circle cx="313" cy="425.1" r="3.2"/><circle cx="317" cy="428.9" r="3.2"/><circle cx="311" cy="437.2" r="3.2"/><circle cx="315" cy="440.2" r="3.2"/><circle cx="312" cy="441.8" r="3.2"/><circle cx="318" cy="443.4" r="3.2"/><circle cx="310" cy="445.2" r="3.2"/><circle cx="314" cy="447.2" r="3.2"/><circle cx="316" cy="459.4" r="3.2"/>
<circle cx="366" cy="420.1" r="3.2"/><circle cx="364" cy="422" r="3.2"/><circle cx="362" cy="441.8" r="3.2"/><circle cx="367" cy="445.2" r="3.2"/><circle cx="364" cy="447.2" r="3.2"/><circle cx="361" cy="449.2" r="3.2"/><circle cx="366" cy="451.4" r="3.2"/><circle cx="363" cy="453.9" r="3.2"/><circle cx="365" cy="462.7" r="3.2"/>
<circle cx="418" cy="437.2" r="3.2"/><circle cx="415" cy="438.6" r="3.2"/><circle cx="419" cy="440.2" r="3.2"/><circle cx="414" cy="441.8" r="3.2"/><circle cx="417" cy="443.4" r="3.2"/><circle cx="420" cy="445.2" r="3.2"/><circle cx="416" cy="449.2" r="3.2"/><circle cx="418" cy="453.9" r="3.2"/><circle cx="415" cy="456.5" r="3.2"/><circle cx="417" cy="466.4" r="3.2"/>
<circle cx="471" cy="449.2" r="3.2"/><circle cx="466" cy="451.4" r="3.2"/><circle cx="469" cy="453.9" r="3.2"/><circle cx="464" cy="456.5" r="3.2"/><circle cx="470" cy="459.4" r="3.2"/><circle cx="467" cy="462.7" r="3.2"/><circle cx="472" cy="466.4" r="3.2"/><circle cx="465" cy="470.7" r="3.2"/><circle cx="469" cy="475.8" r="3.2"/><circle cx="466" cy="478.7" r="3.2"/><circle cx="470" cy="482" r="3.2"/><circle cx="467" cy="485.7" r="3.2"/><circle cx="465" cy="490" r="3.2"/>
<circle cx="519" cy="435.9" r="3.2"/><circle cx="523" cy="437.2" r="3.2"/><circle cx="516" cy="440.2" r="3.2"/><circle cx="521" cy="443.4" r="3.2"/><circle cx="518" cy="447.2" r="3.2"/><circle cx="524" cy="449.2" r="3.2"/><circle cx="515" cy="451.4" r="3.2"/><circle cx="520" cy="453.9" r="3.2"/><circle cx="522" cy="456.5" r="3.2"/><circle cx="517" cy="459.4" r="3.2"/><circle cx="519" cy="464.5" r="3.2"/><circle cx="516" cy="485.7" r="3.2"/><circle cx="518" cy="488.2" r="3.2"/>
<circle cx="570" cy="435.9" r="3.2"/><circle cx="574" cy="437.2" r="3.2"/><circle cx="567" cy="438.6" r="3.2"/><circle cx="572" cy="440.2" r="3.2"/><circle cx="569" cy="441.8" r="3.2"/><circle cx="575" cy="443.4" r="3.2"/><circle cx="571" cy="445.2" r="3.2"/><circle cx="567" cy="447.2" r="3.2"/><circle cx="573" cy="449.2" r="3.2"/><circle cx="570" cy="451.4" r="3.2"/><circle cx="575" cy="453.9" r="3.2"/><circle cx="569" cy="456.5" r="3.2"/>
</g>
<path stroke="#2b86c9" stroke-width="1.2" d="M101.5 543.5l5 5M101.5 548.5l5 -5M105.5 543.5l5 5M105.5 548.5l5 -5M109.5 543.5l5 5M109.5 548.5l5 -5"/>
<rect class="fr" x="68" y="380" width="521" height="173"/>
<path class="tc" d="M63 520.5H78M63 456.5H78M63 392.5H78M579 520.5H589M579 456.5H589M579 392.5H589"/>
<path class="tc" d="M68 546h4M68 539.8h4M68 534.7h4M68 530.4h4M68 526.7h4M68 523.4h4M68 501.2h4M68 490h4M68 482h4M68 475.8h4M68 470.7h4M68 466.4h4M68 462.7h4M68 459.4h4M68 437.2h4M68 426h4M68 418h4M68 411.8h4M68 406.7h4M68 402.4h4M68 398.7h4M68 395.4h4M589 546h-4M589 539.8h-4M589 534.7h-4M589 530.4h-4M589 526.7h-4M589 523.4h-4M589 501.2h-4M589 490h-4M589 482h-4M589 475.8h-4M589 470.7h-4M589 466.4h-4M589 462.7h-4M589 459.4h-4M589 437.2h-4M589 426h-4M589 418h-4M589 411.8h-4M589 406.7h-4M589 402.4h-4M589 398.7h-4M589 395.4h-4"/>
<g class="tk" text-anchor="end"><text x="62" y="396.5" textLength="21" lengthAdjust="spacingAndGlyphs">1.00</text><text x="62" y="460.5" textLength="21" lengthAdjust="spacingAndGlyphs">0.10</text><text x="62" y="524.5" textLength="21" lengthAdjust="spacingAndGlyphs">0.01</text></g>
<text class="ax" transform="translate(15 469) rotate(-90)" text-anchor="middle" textLength="123" lengthAdjust="spacingAndGlyphs">Orthophosphate as</text>
<text class="ax" transform="translate(31.5 467) rotate(-90)" text-anchor="middle" textLength="130" lengthAdjust="spacingAndGlyphs">phosphorus, in mg/L</text>

<!-- site labels left -->
<g class="ax" text-anchor="end">
<text transform="translate(101.5 562.5) rotate(-90)" textLength="132" lengthAdjust="spacingAndGlyphs">Boise River at Eckert</text>
<text transform="translate(152.9 562.5) rotate(-90)" textLength="156" lengthAdjust="spacingAndGlyphs">Boise River at Middleton</text>
<text transform="translate(204.3 562.5) rotate(-90)" textLength="111" lengthAdjust="spacingAndGlyphs">Fifteenmile Creek</text>
<text transform="translate(255.7 562.5) rotate(-90)" textLength="70.5" lengthAdjust="spacingAndGlyphs">Mill Slough</text>
<text transform="translate(307.1 562.5) rotate(-90)" textLength="84" lengthAdjust="spacingAndGlyphs">Mason Creek</text>
<text transform="translate(358.5 562.5) rotate(-90)" textLength="80" lengthAdjust="spacingAndGlyphs">Indian Creek</text>
<text transform="translate(409.9 562.5) rotate(-90)" textLength="91" lengthAdjust="spacingAndGlyphs">Conway Gulch</text>
<text transform="translate(461.3 562.5) rotate(-90)" textLength="79" lengthAdjust="spacingAndGlyphs">Dixie Slough</text>
<text transform="translate(512.7 562.5) rotate(-90)" textLength="150" lengthAdjust="spacingAndGlyphs">Boise River near Parma</text>
<text transform="translate(564.1 562.5) rotate(-90)" textLength="120" lengthAdjust="spacingAndGlyphs">Sand Hollow Creek</text>
</g>
<g class="ax" text-anchor="middle"><text x="328.5" y="703">Site</text><text class="arr" x="329" y="719.3" textLength="152" lengthAdjust="spacingAndGlyphs">(upstream ⟶ downstream)</text></g>

<!-- ================= PANEL D ================= -->
<text class="t" x="673.3" y="12.7" textLength="92.7" lengthAdjust="spacingAndGlyphs"><tspan font-style="italic">D.</tspan> Total nitrogen</text>
<path class="dv" d="M742.5 20V166.7M804.8 20V166.7"/>
<path class="wk" d="M699.8 136.5V141.6M699.8 158.5V162.4M722.8 153.4V158.5M762.1 63.5V70.3M762.1 94.3V118.7M785.1 36.7V48.8M785.1 65.6V86.4M824.4 48.8V51.5M847.4 25.2V30.9M847.4 41.7V46.2"/>
<path class="cp" d="M689.3 136.5H710.3M689.3 162.4H710.3M712.3 142.8H733.3M712.3 158.5H733.3M751.6 63.5H772.6M751.6 118.7H772.6M774.6 36.7H795.6M774.6 86.4H795.6M813.9 48.8H834.9M836.9 25.2H857.9M836.9 46.2H857.9"/>
<g class="rb"><rect x="689.3" y="141.6" width="21" height="16.9"/><rect x="751.6" y="70.3" width="21" height="24"/><rect x="813.9" y="51.5" width="21" height="5.5"/></g>
<g class="bb"><rect x="712.3" y="142.8" width="21" height="10.6"/><rect x="774.6" y="48.8" width="21" height="16.8"/><rect x="836.9" y="30.9" width="21" height="10.8"/></g>
<path class="md" d="M689.3 151.9H710.3M712.3 145.1H733.3M751.6 84H772.6M774.6 56.1H795.6M813.9 53H834.9M836.9 34.1H857.9"/>
<g class="rp">
<circle cx="698" cy="133.8" r="3.2"/><circle cx="702" cy="136.5" r="3.2"/><circle cx="700" cy="141.6" r="3.2"/><circle cx="697" cy="146.3" r="3.2"/><circle cx="703" cy="155" r="3.2"/><circle cx="698" cy="158.5" r="3.2"/><circle cx="701" cy="162.4" r="3.2"/><circle cx="697" cy="164.5" r="3.2"/>
<circle cx="765" cy="63.5" r="3.2"/><circle cx="760" cy="65.6" r="3.2"/><circle cx="763" cy="70.3" r="3.2"/><circle cx="765" cy="79" r="3.2"/><circle cx="766" cy="84" r="3.2"/><circle cx="761" cy="88.5" r="3.2"/><circle cx="760" cy="95.9" r="3.2"/><circle cx="760" cy="118.7" r="3.2"/><circle cx="763" cy="121" r="3.2"/>
<circle cx="828" cy="48.8" r="3.2"/><circle cx="823" cy="50.1" r="3.2"/><circle cx="826" cy="51.5" r="3.2"/><circle cx="821" cy="53" r="3.2"/><circle cx="827" cy="56.1" r="3.2"/><circle cx="826" cy="79" r="3.2"/><circle cx="822" cy="93.2" r="3.2"/>
</g>
<g class="bp">
<circle cx="725" cy="119.9" r="3.2"/><circle cx="723" cy="124.8" r="3.2"/><circle cx="720" cy="143.8" r="3.2"/><circle cx="726" cy="146.3" r="3.2"/><circle cx="722" cy="149" r="3.2"/><circle cx="727" cy="151.9" r="3.2"/><circle cx="719" cy="155" r="3.2"/><circle cx="724" cy="158.5" r="3.2"/>
<circle cx="785" cy="36.7" r="3.2"/><circle cx="790" cy="39.6" r="3.2"/><circle cx="781" cy="42.7" r="3.2"/><circle cx="788" cy="47.5" r="3.2"/><circle cx="783" cy="50.1" r="3.2"/><circle cx="786" cy="53" r="3.2"/><circle cx="781" cy="56.1" r="3.2"/><circle cx="789" cy="59.6" r="3.2"/><circle cx="784" cy="63.5" r="3.2"/><circle cx="787" cy="67.9" r="3.2"/><circle cx="787" cy="86.4" r="3.2"/><circle cx="787" cy="105.4" r="3.2"/><circle cx="783" cy="129" r="3.2"/>
<circle cx="846" cy="25.2" r="3.2"/><circle cx="850" cy="27.3" r="3.2"/><circle cx="843" cy="29.4" r="3.2"/><circle cx="848" cy="31.6" r="3.2"/><circle cx="852" cy="34.1" r="3.2"/><circle cx="845" cy="36.7" r="3.2"/><circle cx="849" cy="39.6" r="3.2"/><circle cx="846" cy="42.7" r="3.2"/><circle cx="851" cy="45" r="3.2"/><circle cx="843" cy="46.2" r="3.2"/><circle cx="849" cy="80.7" r="3.2"/>
</g>
<rect class="fr" x="673.3" y="20" width="194.7" height="146.7"/>
<path class="tc" d="M666 155H681M666 118.7H681M666 79H681M666 42.7H681M860 155H868M860 118.7H868M860 79H868M860 42.7H868M673.3 162.4h4M673.3 158.5h4M673.3 132.1h4M673.3 109.2h4M673.3 101.9h4M673.3 95.9h4M673.3 90.8h4M673.3 86.4h4M673.3 82.5h4M673.3 56.1h4M673.3 33.2h4M673.3 25.9h4M868 162.4h-4M868 158.5h-4M868 132.1h-4M868 109.2h-4M868 101.9h-4M868 95.9h-4M868 90.8h-4M868 86.4h-4M868 82.5h-4M868 56.1h-4M868 33.2h-4M868 25.9h-4"/>
<g class="tk" text-anchor="end"><text x="666" y="46.7">3.0</text><text x="666" y="83">1.0</text><text x="666" y="122.7">0.3</text><text x="666" y="159">0.1</text></g>
<text class="ax" transform="translate(625.5 86) rotate(-90)" text-anchor="middle" textLength="98" lengthAdjust="spacingAndGlyphs">Total nitrogen,</text>
<text class="ax" transform="translate(643 88) rotate(-90)" text-anchor="middle">in mg/L</text>

<!-- ================= PANEL E ================= -->
<text class="t" x="673.3" y="190.7" textLength="161.7" lengthAdjust="spacingAndGlyphs"><tspan font-style="italic">E.</tspan> Nitrate+nitrite as nitrogen</text>
<path class="dv" d="M742.5 196.7V339.3M804.8 196.7V339.3"/>
<path class="wk" d="M699.8 313.3V324M762.1 252.3V258.2M762.1 275.4V299.7M785.1 213.9V226.5M785.1 243.9V268.5M824.4 228V231.3M847.4 203.7V207.9M847.4 221.3V229.6"/>
<path class="cp" d="M689.3 313.3H710.3M751.6 252.3H772.6M751.6 299.7H772.6M774.6 213.9H795.6M774.6 268.5H795.6M813.9 228H834.9M836.9 203.7H857.9M836.9 229.6H857.9"/>
<g class="rb"><rect x="689.3" y="324" width="21" height="15.3"/><rect x="751.6" y="258.2" width="21" height="17.2"/><rect x="813.9" y="231.3" width="21" height="4.6"/></g>
<g class="bb"><rect x="712.3" y="337.6" width="21" height="1.7"/><rect x="774.6" y="226.5" width="21" height="17.4"/><rect x="836.9" y="207.9" width="21" height="13.4"/></g>
<path class="md" d="M689.3 338.6H710.3M712.3 338.6H733.3M751.6 265.5H772.6M774.6 234.9H795.6M813.9 233H834.9M836.9 211.2H857.9"/>
<g class="rp">
<circle cx="698" cy="313.3" r="3.2"/><circle cx="703" cy="316.4" r="3.2"/><circle cx="699" cy="330.6" r="3.2"/>
<circle cx="763" cy="252.3" r="3.2"/><circle cx="760" cy="256.9" r="3.2"/><circle cx="765" cy="259.1" r="3.2"/><circle cx="758" cy="263.9" r="3.2"/><circle cx="763" cy="266.7" r="3.2"/><circle cx="761" cy="269.7" r="3.2"/><circle cx="759" cy="275.4" r="3.2"/><circle cx="760" cy="299.7" r="3.2"/><circle cx="764" cy="305.7" r="3.2"/>
<circle cx="825" cy="228" r="3.2"/><circle cx="821" cy="229.6" r="3.2"/><circle cx="828" cy="231.3" r="3.2"/><circle cx="823" cy="233" r="3.2"/><circle cx="826" cy="234.9" r="3.2"/><circle cx="825" cy="256.9" r="3.2"/><circle cx="828" cy="277" r="3.2"/>
</g>
<path stroke="#e0232b" stroke-width="1.2" d="M693.5 336.5l5 5M693.5 341.5l5 -5M697.5 336.5l5 5M697.5 341.5l5 -5M701.5 336.5l5 5M701.5 341.5l5 -5"/>
<g class="bp">
<circle cx="723" cy="325.8" r="3.2"/><circle cx="724" cy="333.4" r="3.2"/>
<circle cx="787" cy="213.9" r="3.2"/><circle cx="789" cy="216.8" r="3.2"/><circle cx="784" cy="220.1" r="3.2"/><circle cx="788" cy="223.8" r="3.2"/><circle cx="781" cy="226.5" r="3.2"/><circle cx="786" cy="229.6" r="3.2"/><circle cx="783" cy="233" r="3.2"/><circle cx="788" cy="236.9" r="3.2"/><circle cx="782" cy="239" r="3.2"/><circle cx="786" cy="241.3" r="3.2"/><circle cx="789" cy="253.1" r="3.2"/><circle cx="782" cy="253.1" r="3.2"/><circle cx="785" cy="268.5" r="3.2"/><circle cx="781" cy="293.2" r="3.2"/><circle cx="787" cy="301.6" r="3.2"/>
<circle cx="847" cy="203.7" r="3.2"/><circle cx="851" cy="206.4" r="3.2"/><circle cx="844" cy="208.7" r="3.2"/><circle cx="849" cy="211.2" r="3.2"/><circle cx="853" cy="212.9" r="3.2"/><circle cx="846" cy="214.8" r="3.2"/><circle cx="850" cy="218.9" r="3.2"/><circle cx="843" cy="229.6" r="3.2"/><circle cx="847" cy="229.6" r="3.2"/><circle cx="849" cy="256.9" r="3.2"/><circle cx="848" cy="263.9" r="3.2"/>
</g>
<path stroke="#2b86c9" stroke-width="1.2" d="M713.5 336.5l5 5M713.5 341.5l5 -5M717.5 336.5l5 5M717.5 341.5l5 -5M721.5 336.5l5 5M721.5 341.5l5 -5M725.5 336.5l5 5M725.5 341.5l5 -5"/>
<rect class="fr" x="673.3" y="196.7" width="194.7" height="142.6"/>
<path class="tc" d="M666 313.3H681M666 281.5H681M666 246.6H681M666 214.8H681M860 313.3H868M860 281.5H868M860 246.6H868M860 214.8H868M673.3 333.4h4M673.3 328.1h4M673.3 323.6h4M673.3 319.8h4M673.3 316.4h4M673.3 293.2h4M673.3 273.1h4M673.3 266.7h4M673.3 261.4h4M673.3 256.9h4M673.3 253.1h4M673.3 249.7h4M673.3 226.5h4M673.3 206.4h4M673.3 200h4M868 333.4h-4M868 328.1h-4M868 323.6h-4M868 319.8h-4M868 316.4h-4M868 293.2h-4M868 273.1h-4M868 266.7h-4M868 261.4h-4M868 256.9h-4M868 253.1h-4M868 249.7h-4M868 226.5h-4M868 206.4h-4M868 200h-4"/>
<g class="tk" text-anchor="end"><text x="666" y="219">3.0</text><text x="666" y="250.6">1.0</text><text x="666" y="285.5">0.3</text><text x="666" y="317.3">0.1</text></g>
<text class="ax" transform="translate(625.5 258) rotate(-90)" text-anchor="middle" textLength="120" lengthAdjust="spacingAndGlyphs">Nitrate+nitrite as</text>
<text class="ax" transform="translate(643 258) rotate(-90)" text-anchor="middle" textLength="109" lengthAdjust="spacingAndGlyphs">nitrogen, in mg/L</text>

<!-- ================= PANEL F ================= -->
<text class="t" x="673.3" y="368.3" textLength="44.7" lengthAdjust="spacingAndGlyphs" font-style="italic">F. E.coli</text>
<path class="dv" d="M742.5 376V524M804.8 376V524"/>
<path class="ds" d="M673.3 390.5H868M673.3 415H868"/>
<g class="th"><text x="688" y="388" textLength="16" lengthAdjust="spacingAndGlyphs">406</text><text x="688" y="412.5" textLength="16" lengthAdjust="spacingAndGlyphs">126</text></g>
<path class="wk" d="M699.8 455.5V465.6M699.8 490.3V517.7M722.8 445.7V469.4M722.8 494.7V517.7M762.1 434.4V443.1M785.1 427.1V445M785.1 462.3V480.1M824.4 384.6V389.6M824.4 421.1V437.4M847.4 381.8V406.6M847.4 431.1V435.6"/>
<path class="cp" d="M689.3 455.5H710.3M689.3 517.7H710.3M712.3 445.7H733.3M712.3 517.7H733.3M751.6 424.5H772.6M751.6 443.1H772.6M774.6 427.1H795.6M774.6 480.1H795.6M813.9 384.6H834.9M813.9 437.4H834.9M836.9 381.8H857.9M836.9 435.6H857.9"/>
<g class="rb"><rect x="689.3" y="465.6" width="21" height="24.7"/><rect x="751.6" y="424.5" width="21" height="9.9"/><rect x="813.9" y="389.6" width="21" height="31.5"/></g>
<g class="bb"><rect x="712.3" y="469.4" width="21" height="25.3"/><rect x="774.6" y="445" width="21" height="17.3"/><rect x="836.9" y="406.6" width="21" height="24.5"/></g>
<path class="md" d="M689.3 480.8H710.3M712.3 471.6H733.3M751.6 430.8H772.6M774.6 452.9H795.6M813.9 401.9H834.9M836.9 423.3H857.9"/>
<g class="rp">
<circle cx="701" cy="455.5" r="3.2"/><circle cx="698" cy="460.9" r="3.2"/><circle cx="702" cy="467.4" r="3.2"/><circle cx="698" cy="474.1" r="3.2"/><circle cx="700" cy="488.6" r="3.2"/><circle cx="701" cy="494.7" r="3.2"/>
<circle cx="762" cy="414" r="3.2"/><circle cx="760" cy="423.3" r="3.2"/><circle cx="765" cy="425.8" r="3.2"/><circle cx="762" cy="428.6" r="3.2"/><circle cx="767" cy="431.8" r="3.2"/><circle cx="759" cy="433.6" r="3.2"/><circle cx="763" cy="443.1" r="3.2"/><circle cx="759" cy="449.4" r="3.2"/>
<circle cx="827" cy="384.6" r="3.2"/><circle cx="823" cy="387.3" r="3.2"/><circle cx="821" cy="392" r="3.2"/><circle cx="825" cy="398.1" r="3.2"/><circle cx="827" cy="404.4" r="3.2"/><circle cx="821" cy="415.4" r="3.2"/><circle cx="824" cy="421.1" r="3.2"/><circle cx="825" cy="431.8" r="3.2"/><circle cx="823" cy="437.4" r="3.2"/>
</g>
<path stroke="#e0232b" stroke-width="1.2" d="M697.5 515.2l5 5M697.5 520.2l5 -5"/>
<g class="bp">
<circle cx="726" cy="445.7" r="3.2"/><circle cx="721" cy="469.4" r="3.2"/><circle cx="725" cy="469.4" r="3.2"/><circle cx="723" cy="474.1" r="3.2"/><circle cx="726" cy="488.6" r="3.2"/><circle cx="720" cy="494.7" r="3.2"/><circle cx="722" cy="494.7" r="3.2"/><circle cx="720" cy="517.7" r="3.2"/>
<circle cx="786" cy="404.4" r="3.2"/><circle cx="782" cy="408.8" r="3.2"/><circle cx="784" cy="427.1" r="3.2"/><circle cx="783" cy="441.4" r="3.2"/><circle cx="787" cy="446.4" r="3.2"/><circle cx="785" cy="448.6" r="3.2"/><circle cx="789" cy="452.9" r="3.2"/><circle cx="784" cy="455.9" r="3.2"/><circle cx="782" cy="460.9" r="3.2"/><circle cx="786" cy="463.9" r="3.2"/><circle cx="784" cy="469.4" r="3.2"/><circle cx="787" cy="480.1" r="3.2"/><circle cx="788" cy="517.7" r="3.2"/>
<circle cx="846" cy="381.8" r="3.2"/><circle cx="847" cy="398.1" r="3.2"/><circle cx="845" cy="404.4" r="3.2"/><circle cx="850" cy="406.6" r="3.2"/><circle cx="843" cy="412.6" r="3.2"/><circle cx="848" cy="417.3" r="3.2"/><circle cx="852" cy="421.1" r="3.2"/><circle cx="846" cy="423.3" r="3.2"/><circle cx="849" cy="425.8" r="3.2"/><circle cx="844" cy="428.6" r="3.2"/><circle cx="851" cy="431.8" r="3.2"/><circle cx="847" cy="433.6" r="3.2"/><circle cx="845" cy="435.6" r="3.2"/><circle cx="849" cy="471.6" r="3.2"/><circle cx="847" cy="483.9" r="3.2"/>
</g>
<rect class="fr" x="673.3" y="376" width="194.7" height="148"/>
<path class="tc" d="M666 517.7H681M666 469.4H681M666 421.1H681M860 517.7H868M860 469.4H868M860 421.1H868M673.3 503.2h4M673.3 494.7h4M673.3 488.6h4M673.3 483.9h4M673.3 480.1h4M673.3 476.9h4M673.3 474.1h4M673.3 471.6h4M673.3 454.9h4M673.3 446.4h4M673.3 440.3h4M673.3 435.6h4M673.3 431.8h4M673.3 428.6h4M673.3 425.8h4M673.3 423.3h4M673.3 406.6h4M673.3 398.1h4M673.3 392h4M673.3 387.3h4M673.3 383.5h4M673.3 380.3h4M673.3 377.5h4M868 503.2h-4M868 494.7h-4M868 488.6h-4M868 483.9h-4M868 480.1h-4M868 476.9h-4M868 474.1h-4M868 471.6h-4M868 454.9h-4M868 446.4h-4M868 440.3h-4M868 435.6h-4M868 431.8h-4M868 428.6h-4M868 425.8h-4M868 423.3h-4M868 406.6h-4M868 398.1h-4M868 392h-4M868 387.3h-4M868 383.5h-4M868 380.3h-4M868 377.5h-4"/>
<g class="tk" text-anchor="end"><text x="666" y="425.1">100</text><text x="666" y="473.4">10</text><text x="666" y="521.7">1</text></g>
<text class="ax" transform="translate(624.5 446.7) rotate(-90)" text-anchor="middle" textLength="140" lengthAdjust="spacingAndGlyphs"><tspan font-style="italic">Escherichia coli</tspan> (<tspan font-style="italic">E. coli</tspan>),</text>
<text class="ax" transform="translate(642.5 448) rotate(-90)" text-anchor="middle" textLength="83" lengthAdjust="spacingAndGlyphs">in MPN/100 mL</text>

<!-- ================= PANEL G ================= -->
<text class="t" x="673.3" y="546.7" textLength="108.4" lengthAdjust="spacingAndGlyphs"><tspan font-style="italic">G.</tspan> Periphyton chl-a</text>
<path class="dv" d="M742.5 554V702.7M804.8 554V702.7"/>
<path class="ds" d="M742.5 608.7H868"/>
<text class="th" x="746.5" y="607" textLength="15" lengthAdjust="spacingAndGlyphs">150</text>
<path class="wk" d="M722.8 608V616.4M722.8 635.2V648.7M785.1 559.6V573.9M785.1 597.1V603.3M847.4 597.1V606.7"/>
<path class="cp" d="M712.3 608H733.3M712.3 648.7H733.3M774.6 559.6H795.6M774.6 603.3H795.6M836.9 597.1H857.9M836.9 652.6H857.9"/>
<g class="bb"><rect x="712.3" y="616.4" width="21" height="18.8"/><rect x="774.6" y="573.9" width="21" height="23.2"/><rect x="836.9" y="606.7" width="21" height="45.9"/></g>
<path class="md" d="M712.3 619.4H733.3M774.6 584.4H795.6M836.9 628.6H857.9"/>
<g class="rp">
<circle cx="698" cy="666.4" r="3.2"/><circle cx="759" cy="567.3" r="3.2"/><circle cx="763" cy="585.8" r="3.2"/><circle cx="759" cy="649.5" r="3.2"/><circle cx="823" cy="596.2" r="3.2"/><circle cx="825" cy="604.4" r="3.2"/><circle cx="826" cy="663" r="3.2"/>
</g>
<path stroke="#e0232b" stroke-width="1.2" d="M696.5 638.9l5 5M696.5 643.9l5 -5M697.5 674.7l5 5M697.5 679.7l5 -5M758.5 686.5l5 5M758.5 691.5l5 -5M819.5 626.9l5 5M819.5 631.9l5 -5"/>
<g class="bp">
<circle cx="724" cy="608" r="3.2"/><circle cx="720" cy="616.4" r="3.2"/><circle cx="725" cy="619.4" r="3.2"/><circle cx="722" cy="635.2" r="3.2"/>
<circle cx="786" cy="559.6" r="3.2"/><circle cx="783" cy="576" r="3.2"/><circle cx="788" cy="576" r="3.2"/><circle cx="786" cy="583.5" r="3.2"/><circle cx="782" cy="597.1" r="3.2"/><circle cx="784" cy="603.3" r="3.2"/>
<circle cx="850" cy="597.1" r="3.2"/><circle cx="846" cy="604.4" r="3.2"/><circle cx="845" cy="608" r="3.2"/><circle cx="847" cy="623.3" r="3.2"/><circle cx="843" cy="628.6" r="3.2"/><circle cx="850" cy="639.6" r="3.2"/>
</g>
<path stroke="#2b86c9" stroke-width="1.2" d="M721.5 646.2l5 5M721.5 651.2l5 -5M783.5 641.4l5 5M783.5 646.4l5 -5M840.5 650.1l5 5M840.5 655.1l5 -5M844.5 650.1l5 5M844.5 655.1l5 -5"/>
<rect class="fr" x="673.3" y="554" width="194.7" height="148.7"/>
<path class="tc" d="M666 668.8H681M666 623.3H681M666 581.8H681M860 668.8H868M860 623.3H868M860 581.8H868M673.3 684.1h4M673.3 657.9h4M673.3 649.5h4M673.3 642.6h4M673.3 636.8h4M673.3 631.7h4M673.3 627.3h4M673.3 597.1h4M673.3 570.9h4M673.3 562.5h4M868 684.1h-4M868 657.9h-4M868 649.5h-4M868 642.6h-4M868 636.8h-4M868 631.7h-4M868 627.3h-4M868 597.1h-4M868 570.9h-4M868 562.5h-4"/>
<g class="tk" text-anchor="end"><text x="666" y="585.8">300</text><text x="666" y="627.3">100</text><text x="666" y="672.8">30</text></g>
<text class="ax" transform="translate(623.5 623.5) rotate(-90)" text-anchor="middle" textLength="147" lengthAdjust="spacingAndGlyphs">Periphyton chlorophyll <tspan font-style="italic">a</tspan>,</text>
<text class="ax" transform="translate(642 632) rotate(-90)" text-anchor="middle">in mg/m<tspan font-size="9" dy="-5">2</tspan></text>

<!-- site labels right -->
<g font-size="12.5" text-anchor="end">
<text transform="translate(715.5 711) rotate(-90)" textLength="116" lengthAdjust="spacingAndGlyphs">Boise River at Eckert</text>
<text transform="translate(777.5 711) rotate(-90)" textLength="136" lengthAdjust="spacingAndGlyphs">Boise River at Middleton</text>
<text transform="translate(840 711) rotate(-90)" textLength="130" lengthAdjust="spacingAndGlyphs">Boise River near Parma</text>
</g>
<g class="ax" text-anchor="middle"><text x="775" y="874">Site</text><text class="arr" x="775" y="888.3" textLength="150" lengthAdjust="spacingAndGlyphs">(upstream ⟶ downstream)</text></g>

<!-- ================= LEGEND ================= -->
<text x="285" y="775" font-size="14.5" font-weight="bold" textLength="82" lengthAdjust="spacingAndGlyphs">EXPLANATION</text>
<text x="188.3" y="795" font-size="14" font-weight="bold" textLength="41" lengthAdjust="spacingAndGlyphs">Season</text>
<text x="154.3" y="811" font-size="13" textLength="44.4" lengthAdjust="spacingAndGlyphs">Irrigation</text>
<text x="218.3" y="811" font-size="13" textLength="67.7" lengthAdjust="spacingAndGlyphs">Non-irrigation</text>
<path class="wk" stroke-width="1.3" d="M176.7 825V853.3M176.7 912.3V932.7M252.3 825V853.3M252.3 912.3V932.7"/>
<path class="cp" d="M168 825H185.5M168 932.7H185.5M243.5 825H261M243.5 932.7H261"/>
<rect class="rb" x="167.7" y="853.3" width="18" height="59"/>
<rect class="bb" x="243.3" y="853.3" width="18" height="59"/>
<path class="md" stroke-width="1.4" d="M167.7 876H185.7M243.3 876H261.3"/>
<text class="lb" x="283.3" y="829.3" textLength="211.7" lengthAdjust="spacingAndGlyphs">Largest value within 1.5 times interquartile</text>
<text class="lb" x="301" y="844" textLength="137.3" lengthAdjust="spacingAndGlyphs">range above 75th percentile</text>
<text class="lg" x="283.3" y="859.3" textLength="72" lengthAdjust="spacingAndGlyphs">75th percentile</text>
<text class="lg" x="283.3" y="881.7" textLength="72" lengthAdjust="spacingAndGlyphs">50th percentile</text>
<text class="lg" x="301" y="896" textLength="42.3" lengthAdjust="spacingAndGlyphs">(median)</text>
<text class="lg" x="283.3" y="913.3" textLength="72" lengthAdjust="spacingAndGlyphs">25th percentile</text>
<path fill="none" stroke="#222" stroke-width="1.1" d="M365 857.3H375.3V912.3H365"/>
<text class="lb" x="382.7" y="882.7" textLength="61.3" lengthAdjust="spacingAndGlyphs">Interquartile</text>
<text class="lb" x="382.7" y="897.3" textLength="28" lengthAdjust="spacingAndGlyphs">range</text>
<text class="lb" x="283.3" y="938.3" textLength="218.4" lengthAdjust="spacingAndGlyphs">Smallest value within 1.5 times interquartile</text>
<text class="lb" x="301" y="952.7" textLength="139" lengthAdjust="spacingAndGlyphs">range below 25th percentile</text>
<text class="lb" x="283.3" y="973.3" textLength="128.4" lengthAdjust="spacingAndGlyphs">Sample, by reporting limit</text>
<circle cx="176.7" cy="989.3" r="3.5" fill="none" stroke="#e0232b" stroke-width="1.4"/>
<circle cx="252.3" cy="989.3" r="3.5" fill="none" stroke="#2b86c9" stroke-width="1.4"/>
<path stroke="#e0232b" stroke-width="1.4" d="M173.2 1003.8l7 7M173.2 1010.8l7 -7"/>
<path stroke="#2b86c9" stroke-width="1.4" d="M248.8 1003.8l7 7M248.8 1010.8l7 -7"/>
<text class="lg" x="310.7" y="992.7" textLength="132.6" lengthAdjust="spacingAndGlyphs">Greater than reporting limit</text>
<text class="lg" x="310.7" y="1010.7" textLength="117" lengthAdjust="spacingAndGlyphs">Less than reporting limit</text>
<path class="ds" stroke-dasharray="5 3" d="M194 1033.3H235"/>
<text x="206" y="1031.5" font-size="10.5" fill="#7a7a7a" textLength="16.3" lengthAdjust="spacingAndGlyphs">150</text>
<text class="lb" x="283.3" y="1036" textLength="150.7" lengthAdjust="spacingAndGlyphs">TMDL threshold concentration</text>
</svg>
</body></html>
